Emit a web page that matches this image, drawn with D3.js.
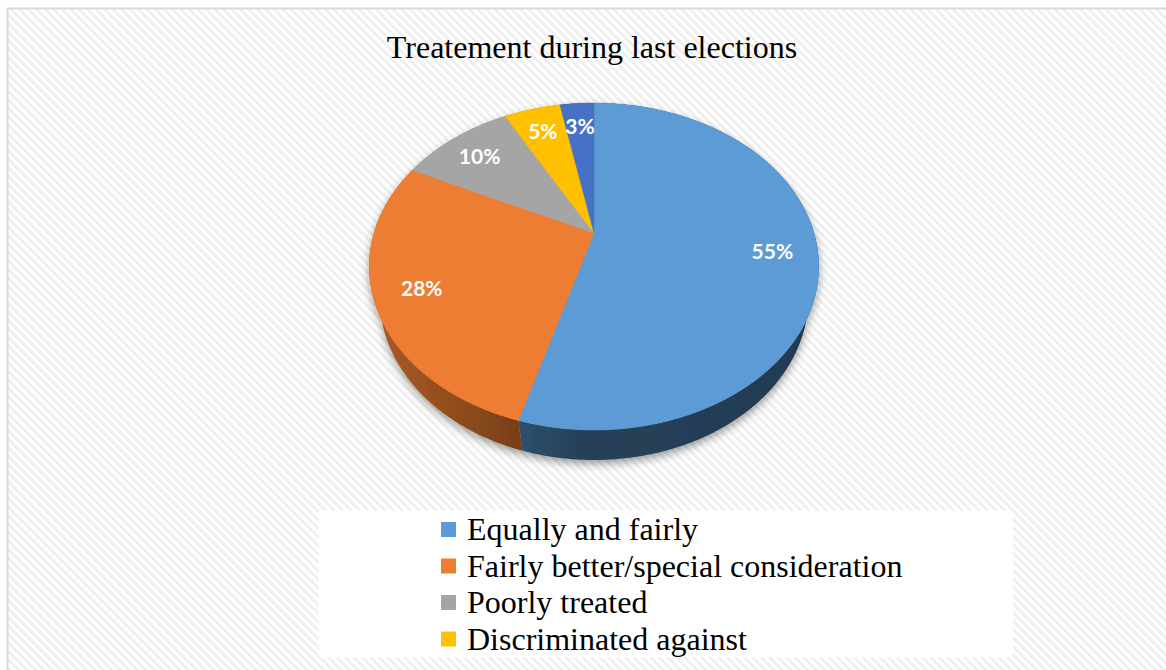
<!DOCTYPE html>
<html>
<head>
<meta charset="utf-8">
<script src="https://cdn.jsdelivr.net/npm/d3@7"></script>
<style>
html,body{margin:0;padding:0;background:#fff;}
svg{display:block;}
</style>
</head>
<body>
<svg id="chart" width="1166" height="670"></svg>
<script>
// ---- data ----
const title = "Treatement during last elections";
const categories = ["Equally and fairly", "Fairly better/special consideration", "Poorly treated", "Discriminated against", ""];
const values = [55, 28, 10, 5, 3];
const valueLabels = ["55%", "28%", "10%", "5%", "3%"];
const legendCategories = ["Equally and fairly", "Fairly better/special consideration", "Poorly treated", "Discriminated against"];
const colors = ["#5b9bd5", "#ed7d31", "#a5a5a5", "#ffc000", "#4472c4"];

const svg = d3.select("#chart");
const W = 1166, H = 670;
const defs = svg.append("defs");

// background hatch
const pat = defs.append("pattern").attr("id", "hatch").attr("patternUnits", "userSpaceOnUse")
  .attr("width", 6).attr("height", 6).attr("patternTransform", "rotate(-45)");
pat.append("rect").attr("width", 6).attr("height", 6).attr("fill", "#ffffff");
pat.append("rect").attr("width", 2.6).attr("height", 6).attr("fill", "#eeeeee");

svg.append("rect").attr("width", W).attr("height", H).attr("fill", "#fff");
svg.append("rect").attr("x", 8).attr("y", 9).attr("width", W).attr("height", H).attr("fill", "url(#hatch)");
svg.append("line").attr("x1", 7.5).attr("x2", 7.5).attr("y1", 8).attr("y2", H).attr("stroke", "#d9d9d9").attr("stroke-width", 2);
svg.append("line").attr("x1", 7).attr("x2", W).attr("y1", 8.5).attr("y2", 8.5).attr("stroke", "#d9d9d9").attr("stroke-width", 2);

// title
svg.append("text").attr("x", 592).attr("y", 58).attr("text-anchor", "middle")
  .attr("font-family", "'Liberation Serif', 'Times New Roman', serif").attr("font-size", 32)
  .attr("fill", "#000").text(title);

// ---- 3D perspective pie ----
const cx = 594, cy = 233;
const D = 3.43, F = 754.6, sA = 0.712, cA = 0.702, thick = 0.223;
function proj(X, Y, Z) {
  const depth = D + Y * cA - Z * sA;
  return [cx + F * X / depth, cy - F * (Y * sA + Z * cA) / depth];
}
function rimPt(a, Z, r = 1) { return proj(r * Math.sin(a), r * Math.cos(a), Z); }

const pie = d3.pie().sort(null).value(d => d);
const arcs = pie(values);
const line = d3.line();

// shading for sides
const shade = d3.scaleLinear().domain([370, 450, 512, 580, 820]).range([0.72, 0.62, 0.52, 0.42, 0.38]);
arcs.forEach((d, i) => {
  const g = defs.append("linearGradient").attr("id", "side" + i).attr("gradientUnits", "userSpaceOnUse")
    .attr("x1", 370).attr("x2", 820).attr("y1", 0).attr("y2", 0);
  const base = d3.rgb(colors[i]);
  shade.domain().forEach(x => {
    const f = shade(x);
    g.append("stop").attr("offset", (x - 370) / 450)
      .attr("stop-color", d3.rgb(base.r * f, base.g * f, base.b * f).formatHex());
  });
});

const flt = defs.append("filter").attr("id", "shadow").attr("x", "-20%").attr("y", "-20%").attr("width", "140%").attr("height", "140%");
flt.append("feDropShadow").attr("dx", 0).attr("dy", 4).attr("stdDeviation", 4)
  .attr("flood-color", "#000").attr("flood-opacity", 0.38);

const pieG = svg.append("g").attr("filter", "url(#shadow)");

function arcSamples(a0, a1) {
  const n = Math.max(4, Math.ceil((a1 - a0) / 0.01));
  return d3.range(n + 1).map(j => a0 + (a1 - a0) * j / n);
}

// rims ordered far to near
const order = arcs.map((d, i) => i).sort((a, b) =>
  Math.cos((arcs[b].startAngle + arcs[b].endAngle) / 2) - Math.cos((arcs[a].startAngle + arcs[a].endAngle) / 2));
order.forEach(i => {
  const d = arcs[i];
  const as = arcSamples(d.startAngle, d.endAngle);
  const pts = as.map(a => rimPt(a, 0)).concat(as.slice().reverse().map(a => rimPt(a, -thick)));
  pieG.append("path").attr("d", line(pts) + "Z").attr("fill", `url(#side${i})`);
});

// top faces
arcs.forEach((d, i) => {
  const as = arcSamples(d.startAngle, d.endAngle);
  const pts = [proj(0, 0, 0)].concat(as.map(a => rimPt(a, 0)));
  pieG.append("path").attr("d", line(pts) + "Z").attr("fill", colors[i])
    .attr("stroke", colors[i]).attr("stroke-width", 0.5);
});

// data labels
arcs.forEach((d, i) => {
  const m = (d.startAngle + d.endAngle) / 2;
  const p = rimPt(m, 0, 0.8);
  svg.append("text").attr("x", p[0]).attr("y", p[1]).attr("text-anchor", "middle")
    .attr("dominant-baseline", "central")
    .attr("font-family", "Lato, 'Open Sans', sans-serif").attr("font-weight", "bold")
    .attr("font-size", 21).attr("fill", "#fff").text(valueLabels[i]);
});

// legend
svg.append("rect").attr("x", 319).attr("y", 511).attr("width", 694).attr("height", 146).attr("fill", "#fff");
const lg = svg.append("g");
legendCategories.forEach((name, i) => {
  const by = 540 + i * 36.5;
  lg.append("rect").attr("x", 441).attr("y", by - 18).attr("width", 15).attr("height", 15).attr("fill", colors[i]);
  lg.append("text").attr("x", 467).attr("y", by)
    .attr("font-family", "'Liberation Serif', 'Times New Roman', serif").attr("font-size", 32)
    .attr("fill", "#000").text(name);
});
</script>
</body>
</html>
